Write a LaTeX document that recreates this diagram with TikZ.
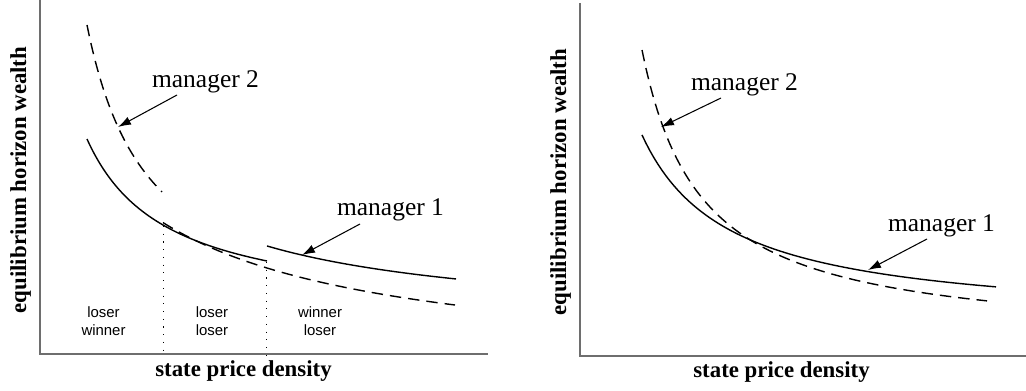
\documentclass[tikz,border=0pt]{standalone}
\usepackage{fontspec}
\setmainfont{Liberation Serif}
\setsansfont{Liberation Sans}
\usepackage{tikz}
\usetikzlibrary{arrows.meta}
\definecolor{axisgray}{HTML}{6E6E6E}

\begin{document}
\begin{tikzpicture}[
  x=0.02cm, y=-0.02cm,
  axis/.style={draw=axisgray, line width=1.1pt},
  wealthone/.style={line width=0.8pt},
  wealthtwo/.style={line width=0.8pt, dash pattern=on 6.5pt off 4pt},
  split/.style={line width=0.5pt, dash pattern=on 0.6pt off 3.8pt},
  arrow/.style={-{Latex[length=2.6mm, width=1.7mm]}, line width=0.6pt},
  mgr/.style={font=\fontsize{14.5}{17}\selectfont, anchor=base, inner sep=0pt},
  axlabel/.style={font=\fontsize{13}{15}\selectfont\bfseries, anchor=base, inner sep=0pt},
  region/.style={font=\sffamily\fontsize{8.5}{10.2}\selectfont, align=center, inner sep=0pt}
]
  \useasboundingbox (0,0) rectangle (1026,391);

  % Left panel: axes
  \draw[axis] (40,0) -- (40,354) -- (488,354);
  \node[axlabel, rotate=90] (ylabA) at (26,180) {equilibrium horizon wealth};
  \node[axlabel] (xlabA) at (243.5,376) {state price density};

  % Left panel: wealth curves
  \draw[wealthtwo] plot[domain=87:162, samples=50] (\x, {354 - (18.515*(1000/(\x-25.9)) + 26)});
  \draw[wealthtwo] plot[domain=163:455, samples=80] (\x, {354 - (35.916*(1000/(\x+76.4)) - 18.6)});
  \draw[wealthone] plot[domain=87:267, samples=80] (\x, {354 - (13.949*(1000/(\x-7.65)) + 39.2)});
  \draw[wealthone] plot[domain=267:456, samples=60] (\x, {354 - (22.745*(1000/(\x+11.6)) + 26.4)});

  % Left panel: regions
  \draw[split] (163,226) -- (163,354);
  \draw[split] (266,262) -- (266,358);
  \node[region] (regA) at (103.5,321) {loser\\winner};
  \node[region] (regB) at (212,321) {loser\\loser};
  \node[region] (regC) at (320,321) {winner\\loser};

  % Left panel: labels
  \node[mgr] (mtwoA) at (205.5,88) {manager 2};
  \node[mgr] (moneA) at (390.5,215) {manager 1};
  \coordinate (mtwoA-tail) at (177,95);
  \coordinate (mtwoA-tip) at (118,127);
  \coordinate (moneA-tail) at (360,224);
  \coordinate (moneA-tip) at (302,255);
  \draw[arrow] (mtwoA-tail) -- (mtwoA-tip);
  \draw[arrow] (moneA-tail) -- (moneA-tip);

  % Right panel: axes
  \draw[axis] (580,3) -- (580,356) -- (1026,356);
  \node[axlabel, rotate=90] (ylabB) at (566,182) {equilibrium horizon wealth};
  \node[axlabel] (xlabB) at (781.5,377) {state price density};

  % Right panel: wealth curves
  \draw[wealthtwo] plot[domain=642:987, samples=90] (\x, {356 - (17.432*(1000/(\x-582.7)) + 12)});
  \draw[wealthone] plot[domain=642:996, samples=90] (\x, {356 - (16.464*(1000/(\x-555)) + 31.8)});

  % Right panel: labels
  \node[mgr] (mtwoB) at (744.5,91) {manager 2};
  \node[mgr] (moneB) at (941.5,232) {manager 1};
  \coordinate (mtwoB-tail) at (721,98);
  \coordinate (mtwoB-tip) at (661,127);
  \coordinate (moneB-tail) at (927,239);
  \coordinate (moneB-tip) at (868,270);
  \draw[arrow] (mtwoB-tail) -- (mtwoB-tip);
  \draw[arrow] (moneB-tail) -- (moneB-tip);
\end{tikzpicture}
\end{document}
